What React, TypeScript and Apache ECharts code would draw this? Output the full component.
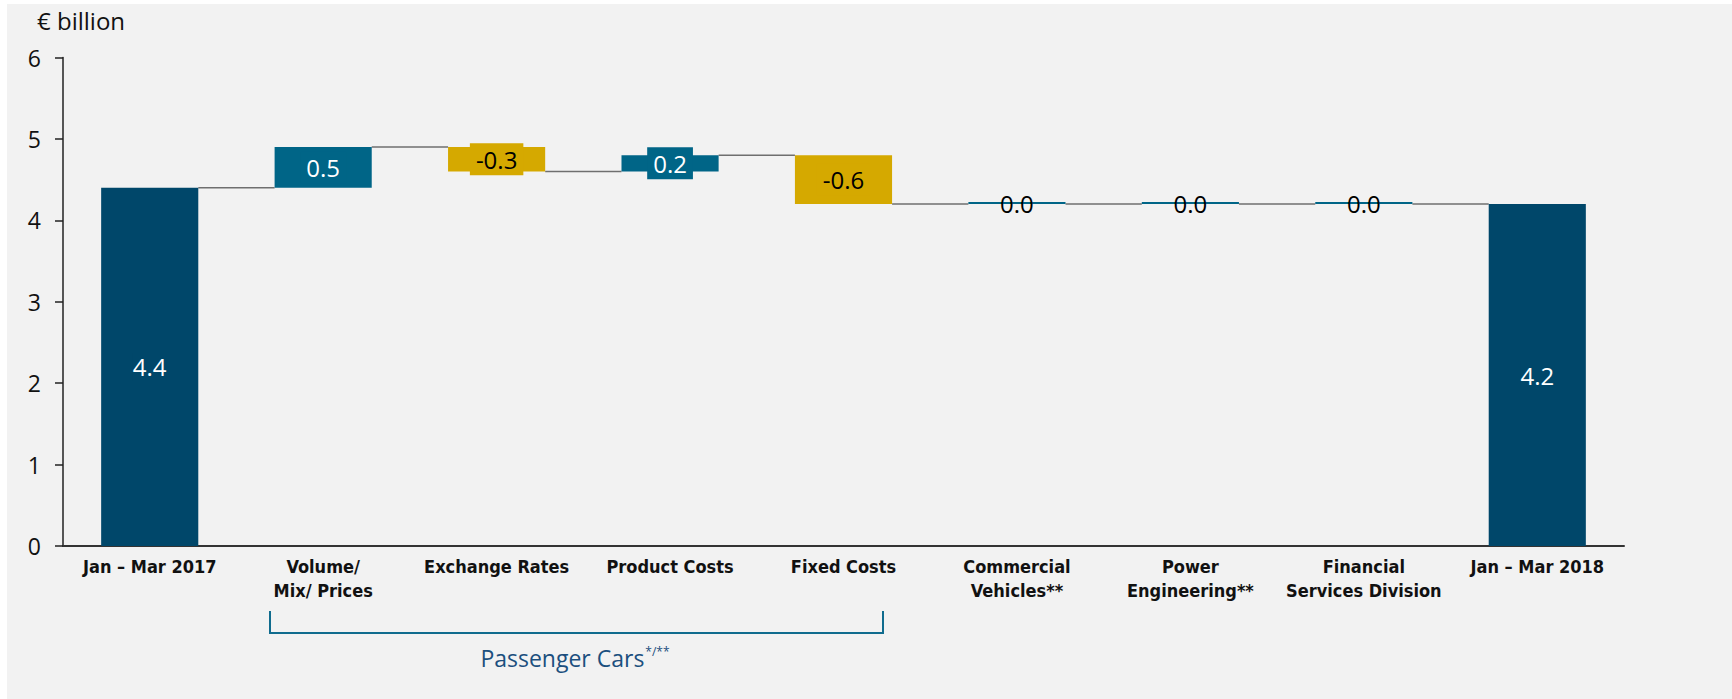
import React, { useEffect, useRef } from "react";
import * as echarts from "echarts";

const categories = [
  "Jan – Mar 2017",
  "Volume/\nMix/ Prices",
  "Exchange Rates",
  "Product Costs",
  "Fixed Costs",
  "Commercial\nVehicles**",
  "Power\nEngineering**",
  "Financial\nServices Division",
  "Jan – Mar 2018",
];
const startValue = 4.4;
const changes = [0.5, -0.3, 0.2, -0.6, 0.0, 0.0, 0.0];
const endValue = 4.2;
const yMin = 0;
const yMax = 6;
const yInterval = 1;

const TOTAL = "#00476A";
const POS = "#006587";
const NEG = "#D5A900";

export default function App() {
  const ref = useRef<HTMLDivElement>(null);
  useEffect(() => {
    if (!ref.current) return;
    const chart = echarts.init(ref.current, undefined, { renderer: "svg" });

    const base: number[] = [];
    const visible: any[] = [];
    const levels: number[] = [];
    base.push(0);
    visible.push({ value: startValue, raw: startValue, kind: "total" });
    let cur = startValue;
    levels.push(cur);
    changes.forEach((c) => {
      const next = Math.round((cur + c) * 100) / 100;
      base.push(Math.min(cur, next));
      visible.push({ value: Math.abs(c), raw: c, kind: c > 0 ? "pos" : c < 0 ? "neg" : "zero" });
      cur = next;
      levels.push(cur);
    });
    base.push(0);
    visible.push({ value: endValue, raw: endValue, kind: "total" });

    const styled = visible.map((d) => {
      const color = d.kind === "total" ? TOTAL : d.kind === "neg" ? NEG : POS;
      const textColor = d.kind === "neg" || d.kind === "zero" ? "#000" : "#fff";
      return {
        value: d.value,
        raw: d.raw,
        itemStyle: { color },
        label: {
          color: textColor,
          backgroundColor: d.kind === "zero" ? "transparent" : color,
          padding: d.kind === "total" ? 0 : [2, 6, 2, 6],
        },
      };
    });

    const connectors = levels.map((lv, i) => [i, lv]);
    const BAR_RATIO = 0.56;

    chart.setOption({
      animation: false,
      backgroundColor: "#f2f2f2",
      grid: { left: 56, right: 108, top: 53.5, bottom: 153, containLabel: false },
      xAxis: {
        type: "category",
        data: categories,
        axisLine: { lineStyle: { color: "#333", width: 2 } },
        axisTick: { show: false },
        axisLabel: {
          interval: 0,
          margin: 8,
          color: "#111",
          fontFamily: "'DejaVu Sans Condensed', 'Liberation Sans Narrow', Roboto, sans-serif",
          fontWeight: "bold",
          fontSize: 18,
          lineHeight: 24,
        },
      },
      yAxis: {
        type: "value",
        min: yMin,
        max: yMax,
        interval: yInterval,
        splitLine: { show: false },
        axisLine: { show: true, lineStyle: { color: "#222", width: 1.5 } },
        axisTick: { show: true, inside: false, length: 8, lineStyle: { color: "#222", width: 1.5 } },
        axisLabel: { color: "#111", fontFamily: "Open Sans", fontSize: 23, margin: 22 },
      },
      series: [
        {
          type: "bar",
          stack: "wf",
          data: base,
          barWidth: "56%",
          itemStyle: { color: "transparent" },
          emphasis: { disabled: true },
          silent: true,
        },
        {
          type: "bar",
          stack: "wf",
          data: styled,
          barWidth: "56%",
          barMinHeight: 2,
          label: {
            show: true,
            position: "inside",
            fontFamily: "Open Sans",
            fontSize: 24,
            lineHeight: 28,
            formatter: (p: any) => Number(p.data.raw).toFixed(1),
          },
        },
        {
          type: "custom",
          data: connectors,
          z: 1,
          silent: true,
          renderItem: (params: any, api: any) => {
            const i = api.value(0);
            const lv = api.value(1);
            if (i >= categories.length - 1) return null;
            const p1 = api.coord([i, lv]);
            const p2 = api.coord([i + 1, lv]);
            const half = (api.size([1, 0])[0] * BAR_RATIO) / 2;
            return {
              type: "line",
              shape: { x1: p1[0] + half, y1: p1[1], x2: p2[0] - half, y2: p2[1] },
              style: { stroke: "#6f6f6f", lineWidth: 1.5 },
            };
          },
        },
      ],
      graphic: [
        {
          type: "text",
          left: 30,
          top: 4,
          style: { text: "€ billion", fontFamily: "Open Sans", fontSize: 24, fill: "#111" },
        },
        {
          type: "polyline",
          shape: { points: [[263, 607], [263, 629], [876, 629], [876, 607]] },
          style: { stroke: "#106C8E", lineWidth: 2, fill: null },
        },
        {
          type: "text",
          x: 568,
          y: 654,
          style: {
            text: "{a|Passenger Cars}{s|*/**}",
            align: "center",
            verticalAlign: "middle",
            rich: {
              a: { fontFamily: "Open Sans", fontSize: 23, fill: "#1B4F7E", lineHeight: 30 },
              s: { fontFamily: "Open Sans", fontSize: 12, fill: "#1B4F7E", lineHeight: 30, padding: [0, 0, 14, 1] },
            },
          },
        },
      ],
    });
    return () => chart.dispose();
  }, []);
  return (
    <div
      ref={ref}
      style={{ position: "absolute", left: 7, top: 4, width: 1725, height: 695 }}
    />
  );
}
